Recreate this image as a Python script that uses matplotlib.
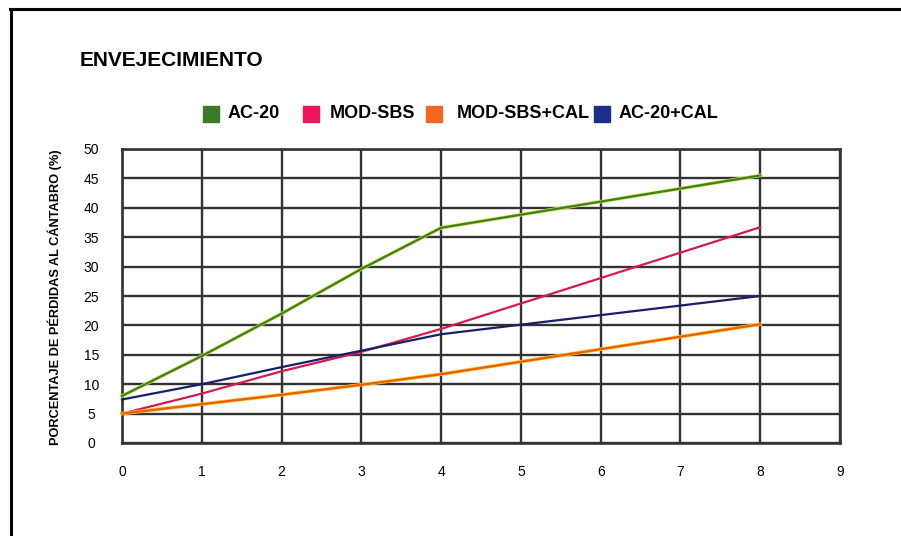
import matplotlib
matplotlib.use("Agg")
import matplotlib.pyplot as plt
import matplotlib.patheffects as pe
from matplotlib.lines import Line2D
from matplotlib.patches import Rectangle

# ---- data ----
title = "ENVEJECIMIENTO"
ylabel = "PORCENTAJE DE PÉRDIDAS AL CÁNTABRO (%)"
series_names = ["AC-20", "MOD-SBS", "MOD-SBS+CAL", "AC-20+CAL"]
x_vals = [0, 1, 2, 3, 4, 8]
ac20 = [8.0, 14.8, 22.0, 29.6, 36.6, 45.5]
mod_sbs = [5.0, 8.4, 12.2, 15.5, 19.4, 36.7]
mod_sbs_cal = [5.0, 6.6, 8.2, 9.9, 11.7, 20.2]
ac20_cal = [7.4, 10.0, 12.9, 15.7, 18.5, 25.0]
x_ticks = [0, 1, 2, 3, 4, 5, 6, 7, 8, 9]
y_ticks = [0, 5, 10, 15, 20, 25, 30, 35, 40, 45, 50]

legend_colors = ["#3a7a28", "#f0145a", "#f26522", "#1a2f8a"]
line_colors = ["#3f7d22", "#d7194f", "#f05a10", "#162067"]
glow_colors = ["#d2e64a", None, "#f5d020", None]

W, H = 901, 536
fig = plt.figure(figsize=(W / 100, H / 100), dpi=100)
fig.patch.set_facecolor("white")

ax = fig.add_axes([122 / W, 1 - 443 / H, (840 - 122) / W, (443 - 149) / H])
ax.set_xlim(0, 9)
ax.set_ylim(0, 50)
ax.set_xticks(x_ticks)
ax.set_yticks(y_ticks)
ax.grid(True, color="#333333", linewidth=1.7)
ax.set_axisbelow(True)
for s in ax.spines.values():
    s.set_color("#333333")
    s.set_linewidth(1.9)
ax.tick_params(length=0)
ax.tick_params(axis="y", pad=22, labelsize=10)
ax.tick_params(axis="x", pad=16, labelsize=10)
for lab in ax.get_yticklabels():
    lab.set_horizontalalignment("center")
    lab.set_fontfamily(["Liberation Sans", "DejaVu Sans"])
for lab in ax.get_xticklabels():
    lab.set_fontfamily(["Liberation Sans", "DejaVu Sans"])

all_series = [ac20, mod_sbs, mod_sbs_cal, ac20_cal]
for ys, c, g in zip(all_series, line_colors, glow_colors):
    effects = [pe.Stroke(linewidth=2.6, foreground=g), pe.Normal()] if g else []
    ax.plot(x_vals, ys, color=c, linewidth=1.6, path_effects=effects,
            solid_joinstyle="round", zorder=3, clip_on=False)

# y label
fig.text(55 / W, 1 - 297 / H, ylabel, rotation=90, ha="center", va="center",
         fontsize=9.2, fontweight="bold",
         family=["Liberation Sans", "DejaVu Sans"])

# title
fig.text(80 / W, 1 - 61 / H, title, ha="left", va="center", fontsize=15,
         fontweight="bold", family=["Liberation Sans", "DejaVu Sans"])

# legend (manual placement to match the original irregular spacing)
sq_x = [203, 303, 426, 594]
txt_x = [228, 330, 457, 619]
leg_y = 114
for name, c, sx, tx in zip(series_names, legend_colors, sq_x, txt_x):
    fig.add_artist(Rectangle((sx / W, 1 - (leg_y + 8) / H), 16 / W, 16 / H,
                             facecolor=c, edgecolor=c,
                             transform=fig.transFigure))
    fig.text(tx / W, 1 - leg_y / H, name, ha="left", va="center",
             fontsize=13, fontweight="bold",
             family=["Liberation Sans", "DejaVu Sans"])

# outer frame (top and left)
fig.add_artist(Line2D([10 / W, 1.0], [1 - 9 / H, 1 - 9 / H], color="black",
                      linewidth=2.2, transform=fig.transFigure))
fig.add_artist(Line2D([11 / W, 11 / W], [1 - 9 / H, 0.0], color="black",
                      linewidth=2.2, transform=fig.transFigure))

fig.savefig("out.png", dpi=100)
